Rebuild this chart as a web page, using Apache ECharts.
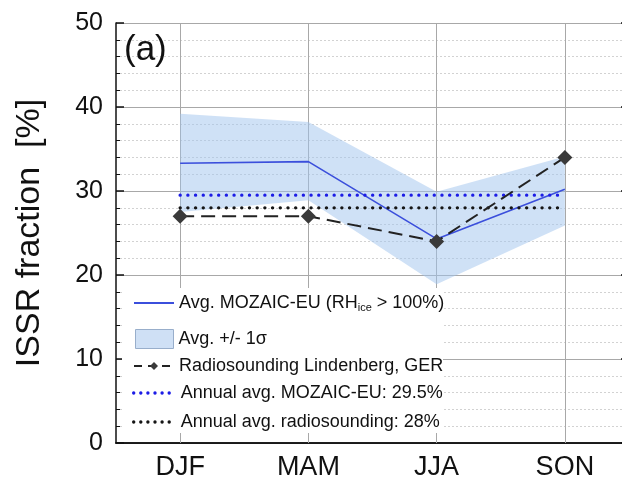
<!DOCTYPE html>
<html><head><meta charset="utf-8">
<script src="https://cdn.jsdelivr.net/npm/echarts@6/dist/echarts.min.js"></script>
<style>html,body{margin:0;padding:0;background:#fff}#c{width:622px;height:479px}</style>
</head><body><div id="c"></div>
<script>
const seasons = ['DJF', 'MAM', 'JJA', 'SON'];
const mozaicAvg = [33.3, 33.5, 24.3, 30.2];
const mozaicUpper = [39.2, 38.2, 29.9, 34.1];
const mozaicLower = [27.5, 28.9, 18.9, 25.9];
const radiosounding = [27.0, 27.0, 24.0, 34.0];
const annualMozaic = [29.5, 29.5, 29.5, 29.5];
const annualRadio = [28, 28, 28, 28];
const yTicks = [0, 10, 20, 30, 40, 50];

const FONT = 'Liberation Sans, Arial, sans-serif';
const bandDiff = mozaicUpper.map((u, i) => +(u - mozaicLower[i]).toFixed(2));

const chart = echarts.init(document.getElementById('c'), null, {renderer: 'canvas'});

const legendText = {fontFamily: FONT, fontSize: 18, color: '#111', lineHeight: 20};
const noSym = {opacity: 0};

const option = {
  animation: false,
  title: {text: '(a)', left: 124, top: 33, padding: 0,
    textStyle: {fontFamily: FONT, fontSize: 35, fontWeight: 'normal', color: '#111'}},
  grid: {left: 116, top: 23, width: 513, height: 420, containLabel: false, outerBoundsMode: 'none'},
  graphic: [{type: 'rect', z: 3, shape: {x: 122, y: 288, width: 321, height: 145}, style: {fill: '#fff'}}],
  xAxis: [
    {type: 'category', data: seasons, boundaryGap: true, position: 'bottom',
     axisLine: {lineStyle: {color: '#111', width: 1.5}},
     axisTick: {inside: true, alignWithLabel: true, length: 8, lineStyle: {color: '#111', width: 1.5}},
     axisLabel: {fontFamily: FONT, fontSize: 27, color: '#111', margin: 11},
     splitLine: {show: false}},
    {type: 'category', data: seasons, boundaryGap: true, position: 'top',
     axisLine: {lineStyle: {color: '#111', width: 1.5}},
     axisTick: {inside: true, alignWithLabel: true, length: 8, lineStyle: {color: '#111', width: 1.5}},
     axisLabel: {show: false}, splitLine: {show: false}}
  ],
  yAxis: [
    {type: 'value', min: yTicks[0], max: yTicks[yTicks.length - 1], interval: 10, position: 'left',
     name: 'ISSR fraction  [%]', nameLocation: 'middle', nameGap: 69,
     nameTextStyle: {fontFamily: FONT, fontSize: 34, color: '#111'},
     axisLine: {show: true, lineStyle: {color: '#111', width: 1.5}},
     axisTick: {show: true, inside: true, length: 8, lineStyle: {color: '#111', width: 1.5}},
     minorTick: {show: true, splitNumber: 5, length: 4, lineStyle: {color: '#111', width: 1}},
     axisLabel: {fontFamily: FONT, fontSize: 25, color: '#111', margin: 13},
     splitLine: {show: true, lineStyle: {color: '#a8a8a8', width: 1}},
     minorSplitLine: {show: true, lineStyle: {color: '#d2d2d2', width: 1, type: [2, 2]}}},
    {type: 'value', min: yTicks[0], max: yTicks[yTicks.length - 1], interval: 10, position: 'right',
     axisLine: {show: true, lineStyle: {color: '#111', width: 1.5}},
     axisTick: {show: true, inside: true, length: 8, lineStyle: {color: '#111', width: 1.5}},
     axisLabel: {show: false}, splitLine: {show: false}}
  ],
  legend: [
    {data: ['Avg. MOZAIC-EU (RHice > 100%)'], left: 133, top: 284, padding: 0,
     itemWidth: 40, itemHeight: 14, selectedMode: false, itemStyle: noSym,
     formatter: () => '{a|Avg. MOZAIC-EU (RH}{s|ice}{a| > 100%)}',
     textStyle: {fontFamily: FONT, fontSize: 18, color: '#111',
       rich: {a: {fontFamily: FONT, fontSize: 18, color: '#111', lineHeight: 20},
              s: {fontFamily: FONT, fontSize: 11, color: '#111', lineHeight: 12, verticalAlign: 'bottom', padding: [18, 0, 0, 0]}}}},
    {data: [{name: 'Avg. +/- 1σ', icon: 'rect'}], left: 135, top: 329, padding: 0,
     itemWidth: 38, itemHeight: 19, selectedMode: false,
     itemStyle: {color: '#cfe0f5', borderColor: '#98aecb', borderWidth: 1},
     textStyle: legendText},
    {data: ['Radiosounding Lindenberg, GER'], left: 133, top: 356, padding: 0,
     itemWidth: 40, itemHeight: 10, selectedMode: false,
     lineStyle: {type: [8, 6], width: 2},
     textStyle: legendText},
    {data: ['Annual avg. MOZAIC-EU: 29.5%'], left: 132, top: 383, padding: 0,
     itemWidth: 42, itemHeight: 14, selectedMode: false, itemStyle: noSym,
     lineStyle: {cap: 'round', type: [0.1, 7], width: 3.3},
     textStyle: legendText},
    {data: ['Annual avg. radiosounding: 28%'], left: 132, top: 412, padding: 0,
     itemWidth: 42, itemHeight: 14, selectedMode: false, itemStyle: noSym,
     lineStyle: {cap: 'round', type: [0.1, 7], width: 3.3},
     textStyle: legendText}
  ],
  series: [
    {name: 'bandLower', type: 'line', data: mozaicLower, stack: 'band', symbol: 'none',
     lineStyle: {opacity: 0}, silent: true, z: 1,
     markLine: {silent: true, symbol: 'none', z: 1, label: {show: false},
       lineStyle: {color: '#a8a8a8', width: 1, type: 'solid'},
       emphasis: {disabled: true},
       data: seasons.map(s => ({xAxis: s}))}},
    {name: 'Avg. +/- 1σ', type: 'line', data: bandDiff, stack: 'band', symbol: 'none',
     lineStyle: {opacity: 0}, areaStyle: {color: 'rgba(160,195,238,0.5)', opacity: 1},
     itemStyle: {color: '#cfe0f5'}, silent: true, z: 1},
    {name: 'Avg. MOZAIC-EU (RHice > 100%)', type: 'line', data: mozaicAvg, symbol: 'none',
     lineStyle: {color: '#3b4fdc', width: 1.6}, itemStyle: {color: '#3b4fdc'}, z: 2},
    {name: 'Annual avg. MOZAIC-EU: 29.5%', type: 'line', data: annualMozaic, symbol: 'none',
     lineStyle: {color: '#1c1ce6', width: 3.3, type: [0.1, 7.6], cap: 'round'}, itemStyle: {color: '#1c1ce6'}, z: 3},
    {name: 'Annual avg. radiosounding: 28%', type: 'line', data: annualRadio, symbol: 'none',
     lineStyle: {color: '#151515', width: 3.3, type: [0.1, 7.6], cap: 'round'}, itemStyle: {color: '#151515'}, z: 3},
    {name: 'Radiosounding Lindenberg, GER', type: 'line', data: radiosounding,
     symbol: 'diamond', symbolSize: 15,
     lineStyle: {color: '#222', width: 2, type: [14, 7]}, itemStyle: {color: '#3a3a3a'}, z: 4}
  ]
};
chart.setOption(option);
</script></body></html>
